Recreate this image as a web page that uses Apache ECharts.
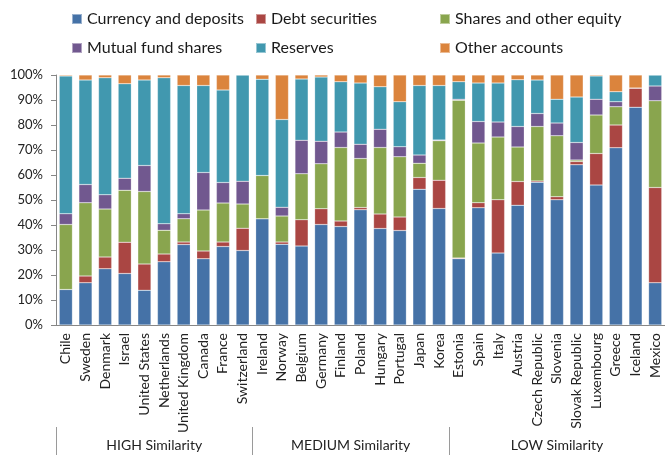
<!DOCTYPE html>
<html><head><meta charset="utf-8">
<script src="https://cdn.jsdelivr.net/npm/echarts@6/dist/echarts.min.js"></script>
<style>html,body{margin:0;padding:0;background:#fff}#c{width:665px;height:455px}</style>
</head><body><div id="c"></div>
<script>
const categories = ["Chile","Sweden","Denmark","Israel","United States","Netherlands","United Kingdom","Canada","France","Switzerland",
  "Ireland","Norway","Belgium","Germany","Finland","Poland","Hungary","Portugal","Japan","Korea",
  "Estonia","Spain","Italy","Austria","Czech Republic","Slovenia","Slovak Republic","Luxembourg","Greece","Iceland","Mexico"];
const groupNames = ["HIGH Similarity","MEDIUM Similarity","LOW Similarity"];
const groupSizes = [10,10,11];
const yTicks = [0,10,20,30,40,50,60,70,80,90,100];

const currency = [14.2,16.9,22.5,20.6,13.9,25.3,32.2,26.5,31.4,29.8, 42.5,32.3,31.6,40.2,39.4,46.1,38.6,37.8,54.3,46.6, 26.5,46.9,28.8,47.9,57.1,50.1,64.1,56.0,70.9,87.1,16.9];
const debt     = [0,2.7,4.7,12.5,10.5,3.1,1.0,3.1,1.8,8.9, 0,0.9,10.5,6.3,2.2,0.9,5.8,5.4,4.7,11.3, 0.3,2.0,21.3,9.5,0.5,1.2,1.3,12.6,9.1,7.7,38.1];
const shares   = [26.0,29.3,19.2,20.8,29.0,9.5,9.3,16.4,15.6,9.7, 17.3,10.4,18.4,18.0,29.4,19.6,26.6,24.1,5.7,15.8, 63.1,23.9,25.1,13.8,21.8,24.4,0.6,15.4,7.3,0,34.7];
const mutual   = [4.3,7.3,5.7,4.8,10.4,2.6,2.0,15.0,8.2,9.1, 0,3.5,13.4,9.0,6.2,5.7,7.3,4.0,3.3,0.3, 0.4,8.6,6.0,8.2,5.2,5.1,7.0,6.3,2.0,0,5.9];
const reserves = [55.1,41.8,46.8,37.8,34.2,58.4,51.3,34.8,37.0,42.5, 38.5,35.1,24.5,25.7,20.1,24.5,17.0,18.0,27.8,21.8, 7.0,15.4,15.6,18.7,13.4,9.5,18.2,9.3,4.0,0,4.4];
const other    = [0.4,2.0,1.1,3.5,2.0,1.1,4.2,4.2,6.0,0, 1.7,17.8,1.6,0.8,2.7,3.2,4.7,10.7,4.2,4.2, 2.7,3.2,3.2,1.9,2.0,9.7,8.8,0.4,6.7,5.2,0];

const seriesNames = ["Currency and deposits","Debt securities","Shares and other equity","Mutual fund shares","Reserves","Other accounts"];
const seriesData = [currency,debt,shares,mutual,reserves,other];
const colors = ["#4572A7","#AA4643","#89A54E","#71588F","#4198AF","#DB843D"];

// half-step group axis: 2*N+1 points, boundaries and centers
const N = categories.length;
const halfData = new Array(2*N+1).fill("");
const boundaryIdx = new Set([0]);
let acc = 0;
groupSizes.forEach((s,i)=>{ halfData[2*acc + s] = groupNames[i]; acc += s; if (acc < N) boundaryIdx.add(2*acc); });

const FONT = "Lato";
const chart = echarts.init(document.getElementById('c'));
const legendCommon = {orient:'vertical', top:6, itemWidth:10, itemHeight:10, itemGap:13,
  textStyle:{fontFamily:FONT, fontSize:16, color:'#1a1a1a'}, icon:'rect', selectedMode:false};
chart.setOption({
  animation:false,
  color:colors,
  textStyle:{fontFamily:FONT},
  legend:[
    Object.assign({left:66, data:[seriesNames[0],seriesNames[3]]}, legendCommon),
    Object.assign({left:250, data:[seriesNames[1],seriesNames[4]]}, legendCommon),
    Object.assign({left:434, data:[seriesNames[2],seriesNames[5]]}, legendCommon)
  ],
  grid:{left:56, right:0, top:75, bottom:130, containLabel:false},
  xAxis:[{
    type:'category', data:categories, boundaryGap:true,
    axisLine:{lineStyle:{color:'#868686'}},
    axisTick:{length:102, lineStyle:{color:'#9a9a9a'}},
    axisLabel:{rotate:90, interval:0, margin:8, fontSize:14, color:'#222', fontFamily:FONT}
  },{
    type:'category', data:halfData, boundaryGap:false, position:'bottom', offset:102,
    axisLine:{show:false},
    axisTick:{show:true, length:28, interval:(i)=>boundaryIdx.has(i), lineStyle:{color:'#9a9a9a'}},
    axisLabel:{interval:(i,v)=>v!=="", margin:11, fontSize:14, color:'#222', fontFamily:FONT}
  }],
  yAxis:{
    type:'value', min:yTicks[0], max:yTicks[yTicks.length-1], interval:10,
    axisLine:{show:true, lineStyle:{color:'#868686'}},
    axisTick:{show:true, length:5, lineStyle:{color:'#868686'}},
    splitLine:{show:false},
    axisLabel:{formatter:'{value}%', margin:13, fontSize:13, color:'#222', fontFamily:FONT}
  },
  series: seriesNames.map((n,i)=>({
    name:n, type:'bar', stack:'all', data:seriesData[i], xAxisIndex:0,
    barCategoryGap:'33%',
    itemStyle:{color:colors[i], borderColor:'rgba(255,255,255,0.45)', borderWidth:0.5}
  }))
});
</script></body></html>
